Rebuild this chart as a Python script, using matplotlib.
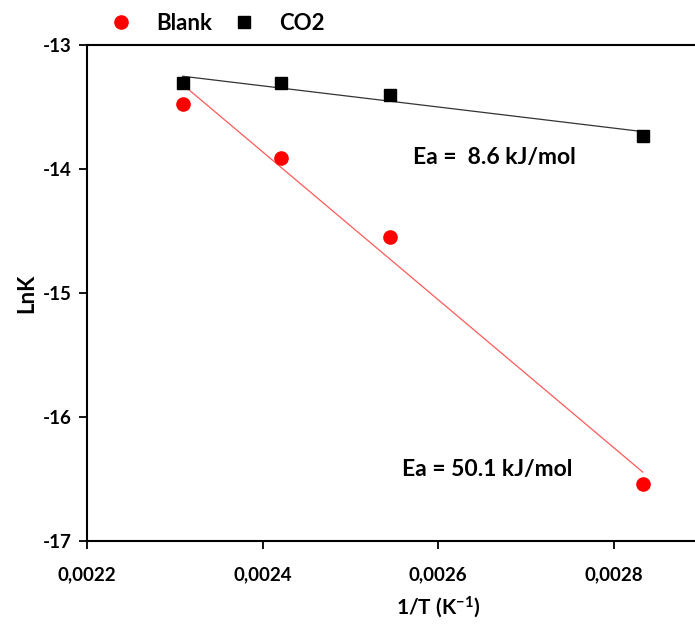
import numpy as np
import matplotlib
matplotlib.use('Agg')
import matplotlib.pyplot as plt

plt.rcParams['font.family'] = ['Lato', 'DejaVu Sans']
plt.rcParams['font.weight'] = 'bold'
plt.rcParams['mathtext.default'] = 'regular'

# 1/T values (K^-1) and ln k
inv_t = [0.002309, 0.002421, 0.002545, 0.002833]
lnk_blank = [-13.476, -13.91, -14.55, -16.54]
lnk_co2 = [-13.31, -13.31, -13.40, -13.73]
ea_labels = ['Ea =  8.6 kJ/mol', 'Ea = 50.1 kJ/mol']

fig = plt.figure(figsize=(6.95, 6.28), dpi=100)
ax = fig.add_axes([0.1252, 0.1385, 1.0106, 0.7898])

x = np.array(inv_t)
for y, lcol in [(lnk_blank, '#ff5a5a'), (lnk_co2, '#333333')]:
    k, b = np.polyfit(x, y, 1)
    xf = np.array([x.min(), x.max()])
    ax.plot(xf, k * xf + b, color=lcol, lw=0.9, zorder=1)

ax.plot(inv_t, lnk_blank, 'o', color='red', ms=9.5, label='Blank', zorder=3)
ax.plot(inv_t, lnk_co2, 's', color='black', ms=8, label='CO2', zorder=3)

ax.text(0.002571, -13.911, ea_labels[0], fontsize=16.5, fontweight='bold', va='center')
ax.text(0.002559, -16.427, ea_labels[1], fontsize=16.5, fontweight='bold', va='center')

ax.set_xlim(0.0022, 0.0030)
ax.set_ylim(-17, -13)
ax.set_xticks([0.0022, 0.0024, 0.0026, 0.0028])
ax.set_xticklabels(['0,0022', '0,0024', '0,0026', '0,0028'])
ax.set_yticks([-17, -16, -15, -14, -13])
ax.set_yticklabels(['-17', '-16', '-15', '-14', '-13'])
ax.tick_params(direction='out', length=6, width=1.3, labelsize=13.5, pad=5)
ax.tick_params(axis='x', pad=12)
for s in ['left', 'bottom', 'top']:
    ax.spines[s].set_linewidth(1.5)
ax.spines['right'].set_visible(False)

ax.set_xlabel('1/T (K$^{-1}$)', fontsize=15, fontweight='bold', labelpad=8)
ax.set_ylabel('LnK', fontsize=16, fontweight='bold', labelpad=4)

fig.legend(loc='center left', bbox_to_anchor=(0.155, 0.963), ncol=2, frameon=False,
           fontsize=16, handlelength=1.2, handletextpad=1.0, columnspacing=0.8,
           borderaxespad=0, borderpad=0)

fig.savefig('out.png', dpi=100)
